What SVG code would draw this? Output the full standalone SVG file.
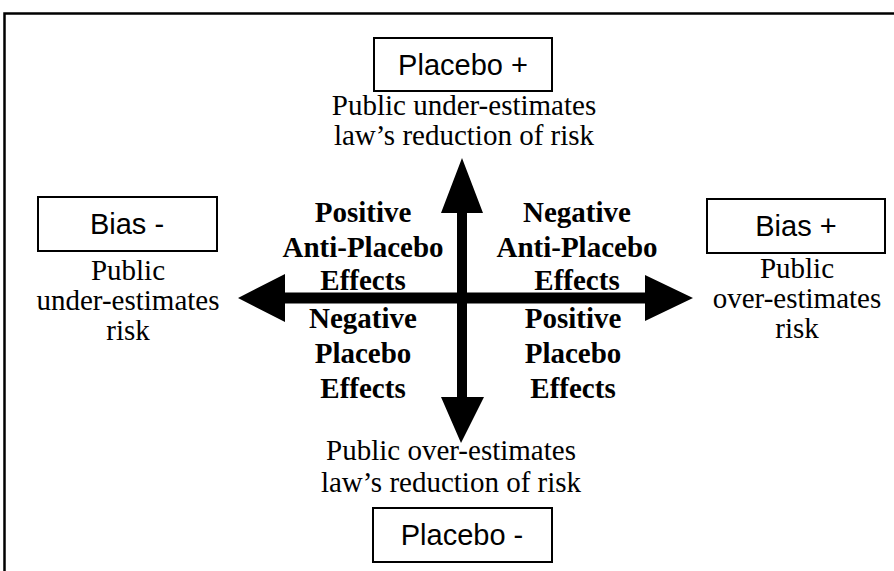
<svg xmlns="http://www.w3.org/2000/svg" width="894" height="571" viewBox="0 0 894 571">
<style>
.frame{fill:none;stroke:#000;stroke-width:2.5}
.box{fill:#fff;stroke:#000;stroke-width:2}
.lbl{font-family:"Liberation Sans",Arial,sans-serif;font-size:29px;text-anchor:middle;fill:#000}
.desc{font-family:"Liberation Serif","Times New Roman",serif;font-size:29px;text-anchor:middle;fill:#000}
.quad{font-family:"Liberation Serif","Times New Roman",serif;font-size:29px;font-weight:bold;text-anchor:middle;fill:#000}
.arrow{fill:#000}
</style>
<rect x="0" y="0" width="894" height="571" fill="#fff"/>
<rect class="frame" x="4.5" y="13.5" width="895" height="565"/>
<g id="connectors">
<polygon class="arrow" points="238,298 285,274 285,292.5 457,292.5 457,213 441,213 462,158 483,213 467,213 467,292.5 645,292.5 645,275 693,298 645,321 645,303.5 467,303.5 467,397 484,397 461,443 441,397 457,397 457,303.5 285,303.5 285,322"/>
</g>
<g id="placebo-plus">
<rect class="box" x="374" y="38" width="178" height="53"/>
<text class="lbl" x="463" y="75">Placebo +</text>
<text class="desc" x="464" y="115">Public under-estimates</text>
<text class="desc" x="464" y="145">law’s reduction of risk</text>
</g>
<g id="placebo-minus">
<text class="desc" x="451" y="460">Public over-estimates</text>
<text class="desc" x="451" y="492">law’s reduction of risk</text>
<rect class="box" x="373" y="508" width="179" height="54"/>
<text class="lbl" x="462" y="545">Placebo -</text>
</g>
<g id="bias-minus">
<rect class="box" x="38" y="197" width="179" height="54"/>
<text class="lbl" x="127" y="234">Bias -</text>
<text class="desc" x="128" y="280">Public</text>
<text class="desc" x="128" y="310">under-estimates</text>
<text class="desc" x="128" y="340">risk</text>
</g>
<g id="bias-plus">
<rect class="box" x="707" y="199" width="178" height="54"/>
<text class="lbl" x="796" y="236">Bias +</text>
<text class="desc" x="797" y="278">Public</text>
<text class="desc" x="797" y="308">over-estimates</text>
<text class="desc" x="797" y="338">risk</text>
</g>
<g id="q-upper-left">
<text class="quad" x="363" y="222">Positive</text>
<text class="quad" x="363" y="257">Anti-Placebo</text>
<text class="quad" x="363" y="290">Effects</text>
</g>
<g id="q-upper-right">
<text class="quad" x="577" y="222">Negative</text>
<text class="quad" x="577" y="257">Anti-Placebo</text>
<text class="quad" x="577" y="290">Effects</text>
</g>
<g id="q-lower-left">
<text class="quad" x="363" y="328">Negative</text>
<text class="quad" x="363" y="363">Placebo</text>
<text class="quad" x="363" y="398">Effects</text>
</g>
<g id="q-lower-right">
<text class="quad" x="573" y="328">Positive</text>
<text class="quad" x="573" y="363">Placebo</text>
<text class="quad" x="573" y="398">Effects</text>
</g>
</svg>
